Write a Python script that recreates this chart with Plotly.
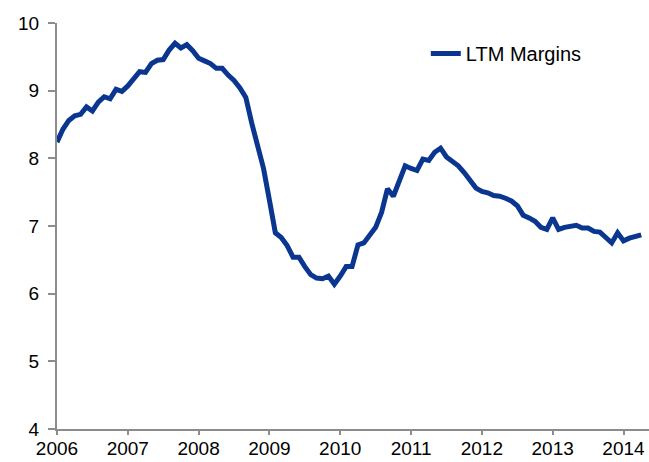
import plotly.graph_objects as go

# Monthly LTM margins, Jan 2006 .. Apr 2014
start_year = 2006
margins = [
    8.24, 8.43, 8.56, 8.63, 8.65, 8.76, 8.70, 8.83, 8.91, 8.88, 9.02, 8.99,   # 2006
    9.07, 9.18, 9.28, 9.27, 9.40, 9.45, 9.46, 9.60, 9.70, 9.63, 9.68, 9.59,   # 2007
    9.48, 9.44, 9.40, 9.33, 9.33, 9.23, 9.15, 9.04, 8.90, 8.52, 8.18, 7.85,   # 2008
    7.38, 6.90, 6.83, 6.71, 6.54, 6.54, 6.40, 6.28, 6.23, 6.22, 6.26, 6.14,   # 2009
    6.26, 6.40, 6.40, 6.72, 6.75, 6.87, 6.98, 7.20, 7.55, 7.44, 7.67, 7.89,   # 2010
    7.85, 7.82, 7.99, 7.97, 8.09, 8.15, 8.02, 7.95, 7.89, 7.79, 7.66, 7.56,   # 2011
    7.51, 7.49, 7.45, 7.44, 7.41, 7.37, 7.30, 7.16, 7.12, 7.07, 6.98, 6.95,   # 2012
    7.12, 6.95, 6.98, 6.99, 7.01, 6.97, 6.97, 6.92, 6.91, 6.83, 6.75, 6.90,   # 2013
    6.78, 6.82, 6.84, 6.87,                                                   # 2014
]
x_years = [start_year + i / 12 for i in range(len(margins))]

year_ticks = [2006, 2007, 2008, 2009, 2010, 2011, 2012, 2013, 2014]
y_ticks = [4, 5, 6, 7, 8, 9, 10]
series_name = "LTM Margins"

line_color = "#0a3690"
axis_color = "#8c8c8c"
font_family = "Liberation Sans, Arial, sans-serif"

fig = go.Figure()
fig.add_trace(go.Scatter(
    x=x_years, y=margins, mode="lines", name=series_name,
    line=dict(color=line_color, width=5, shape="linear"),
))

fig.update_layout(
    width=649, height=462,
    margin=dict(l=57, r=0, t=23, b=33, autoexpand=False),
    paper_bgcolor="white", plot_bgcolor="white",
    font=dict(family=font_family, size=19, color="#000000"),
    showlegend=True,
    legend=dict(
        x=0.623, y=0.925, xanchor="left", yanchor="middle",
        bgcolor="rgba(0,0,0,0)", borderwidth=0,
        font=dict(family=font_family, size=20, color="#000000"),
    ),
    xaxis=dict(
        range=[2006, 2014.36],
        tickmode="array", tickvals=year_ticks, ticktext=[str(v) for v in year_ticks],
        showgrid=False, zeroline=False,
        showline=True, linecolor=axis_color, linewidth=2,
        ticks="outside", ticklen=4, tickwidth=2, tickcolor=axis_color,
        ticklabelstandoff=-3,
        automargin=False,
    ),
    yaxis=dict(
        range=[4, 10],
        tickmode="array", tickvals=y_ticks,
        showgrid=False, zeroline=False,
        showline=True, linecolor=axis_color, linewidth=2,
        ticks="outside", ticklen=7, tickwidth=2, tickcolor=axis_color,
        ticklabelstandoff=5,
        automargin=False,
    ),
)

fig.write_html(
    "out.html",
    config={"displayModeBar": False},
    post_script="document.body.style.margin='0px';",
)
